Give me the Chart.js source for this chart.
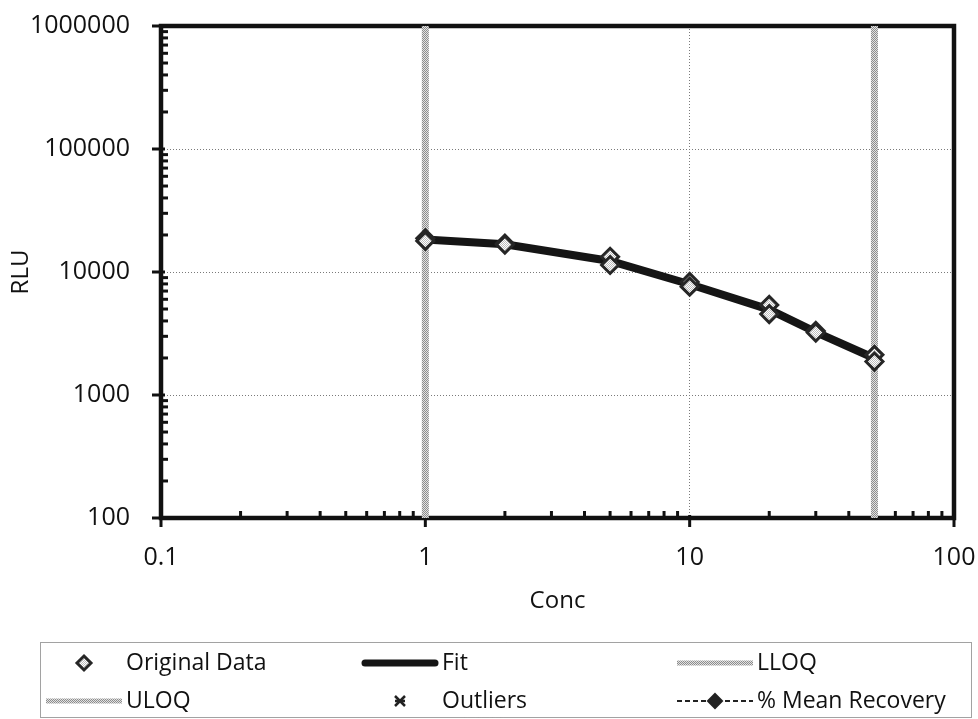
<!DOCTYPE html>
<html>
<head>
<meta charset="utf-8">
<title>RLU vs Conc</title>
<script src="https://cdn.jsdelivr.net/npm/chart.js@4.4.1/dist/chart.umd.min.js"></script>
<style>
  html, body { margin: 0; padding: 0; background: #fff; }
  #wrap { position: relative; width: 978px; height: 719px; }
</style>
</head>
<body>
<div id="wrap"><canvas id="chart"></canvas></div>
<script>
// Axis tick labels (decades on both log axes)
const xTickLabels = ['0.1', '1', '10', '100'];
const yTickLabels = ['100', '1000', '10000', '100000', '1000000'];

const dataConc = [1, 1, 2, 2, 5, 5, 10, 10, 20, 20, 30, 30, 50, 50];
const dataRlu = [18800, 17900, 17000, 16700, 13300, 11400, 8300, 7600, 5400, 4550, 3320, 3220, 2120, 1870];

// Fitted curve
const fitConc = [1, 2, 5, 10, 20, 30, 50];
const fitRlu = [18400, 16800, 12300, 7950, 4950, 3250, 1990];

// Quantification limits
const lloqConc = 1;
const uloqConc = 50;

const FONT = "'Open Sans', sans-serif";
const INK = '#111';
const CLEAR = 'rgba(0,0,0,0)';

// stippled grey like the scanned limit lines
function stipple(dark, light) {
    const c = document.createElement('canvas');
    c.width = 2; c.height = 2;
    const g = c.getContext('2d');
    g.fillStyle = light; g.fillRect(0, 0, 2, 2);
    g.fillStyle = dark; g.fillRect(0, 0, 1, 1); g.fillRect(1, 1, 1, 1);
    return g.createPattern(c, 'repeat');
}
const limitColor = stipple('#8c8c8c', '#e2e2e2');
const markerFill = stipple('#bdbdbd', '#ffffff');

const yMin = Number(yTickLabels[0]);
const yMax = Number(yTickLabels[yTickLabels.length - 1]);
const pts = (xs, ys) => xs.map((x, i) => ({ x: x, y: ys[i] }));

const datasets = [{
    label: 'Original Data',
    data: pts(dataConc, dataRlu),
    showLine: false,
    pointStyle: 'rectRot',
    pointRadius: 8.5,
    pointBackgroundColor: markerFill,
    pointBorderColor: '#262626',
    pointBorderWidth: 3
}, {
    label: 'Fit',
    data: pts(fitConc, fitRlu),
    showLine: true,
    borderColor: '#151515',
    borderWidth: 8,
    pointRadius: 0,
    tension: 0
}, {
    label: 'LLOQ',
    data: pts([lloqConc, lloqConc], [yMin, yMax]),
    showLine: true,
    borderColor: limitColor,
    borderWidth: 7,
    pointRadius: 0
}, {
    label: 'ULOQ',
    data: pts([uloqConc, uloqConc], [yMin, yMax]),
    showLine: true,
    borderColor: limitColor,
    borderWidth: 7,
    pointRadius: 0
}, {
    label: 'Outliers',
    data: [],
    showLine: false,
    pointStyle: 'crossRot',
    pointRadius: 5,
    pointBorderColor: '#222',
    pointBorderWidth: 2.5
}, {
    label: '% Mean Recovery',
    data: [],
    showLine: true,
    borderColor: '#222',
    borderWidth: 2,
    borderDash: [5, 3],
    pointStyle: 'rectRot',
    pointRadius: 7,
    pointBackgroundColor: '#222',
    pointBorderColor: '#222'
}];

// Frame around the plot plus Excel-like major/minor tick marks
const frameTicks = {
    id: 'frameTicks',
    beforeDatasetsDraw(chart) {
        const { ctx, chartArea: a, scales: { x, y } } = chart;
        const line = (x1, y1, x2, y2) => { ctx.beginPath(); ctx.moveTo(x1, y1); ctx.lineTo(x2, y2); ctx.stroke(); };
        ctx.save();
        ctx.strokeStyle = INK;
        ctx.lineWidth = 3;
        const decX = xTickLabels.map(Number);
        decX.forEach((d, i) => {
            const px = x.getPixelForValue(d);
            line(px, a.bottom - 3, px, a.bottom + 9);
            if (i < decX.length - 1) {
                for (let k = 2; k < 10; k++) {
                    const mx = x.getPixelForValue(k * d);
                    line(mx, a.bottom - 7, mx, a.bottom);
                }
            }
        });
        const decY = yTickLabels.map(Number);
        decY.forEach((d, i) => {
            const py = y.getPixelForValue(d);
            line(a.left - 9, py, a.left + 4, py);
            if (i < decY.length - 1) {
                for (let k = 2; k < 10; k++) {
                    const my = y.getPixelForValue(k * d);
                    line(a.left, my, a.left + 7, my);
                }
            }
        });
        ctx.lineWidth = 4.5;
        ctx.strokeRect(a.left, a.top, a.right - a.left, a.bottom - a.top);
        ctx.restore();
    }
};

// Boxed legend laid out in three columns, two rows
const legendBox = { left: 40, top: 642, right: 971, bottom: 717 };
const legendCols = [46, 362, 677];
const legendRows = [663, 701];
const symbolWidth = 76;

function drawMarker(ctx, style, cx, cy, r, fill, stroke, lw) {
    ctx.save();
    ctx.lineWidth = lw;
    ctx.strokeStyle = stroke;
    ctx.beginPath();
    if (style === 'rectRot') {
        ctx.moveTo(cx, cy - r); ctx.lineTo(cx + r, cy); ctx.lineTo(cx, cy + r); ctx.lineTo(cx - r, cy); ctx.closePath();
        if (fill) { ctx.fillStyle = fill; ctx.fill(); }
        ctx.stroke();
    } else {
        ctx.moveTo(cx - r, cy - r); ctx.lineTo(cx + r, cy + r);
        ctx.moveTo(cx + r, cy - r); ctx.lineTo(cx - r, cy + r);
        ctx.moveTo(cx - r, cy); ctx.lineTo(cx + r, cy);
        ctx.stroke();
    }
    ctx.restore();
}

const boxLegend = {
    id: 'boxLegend',
    afterDraw(chart) {
        const ctx = chart.ctx;
        ctx.save();
        ctx.setLineDash([1, 1]);
        ctx.lineWidth = 1;
        ctx.strokeStyle = '#444';
        ctx.strokeRect(legendBox.left + 0.5, legendBox.top + 0.5,
            legendBox.right - legendBox.left, legendBox.bottom - legendBox.top);
        ctx.setLineDash([]);
        ctx.font = '23px ' + FONT;
        ctx.textBaseline = 'middle';
        ctx.fillStyle = INK;
        chart.data.datasets.forEach((ds, i) => {
            const x0 = legendCols[i % 3];
            const cy = legendRows[Math.floor(i / 3)];
            const cx = x0 + symbolWidth / 2;
            const isFit = ds.label === 'Fit';
            if (ds.showLine) {
                ctx.save();
                ctx.strokeStyle = ds.borderColor;
                ctx.lineWidth = isFit ? 7 : (ds.borderDash ? ds.borderWidth : 5);
                ctx.lineCap = isFit ? 'round' : 'butt';
                ctx.setLineDash(ds.borderDash || []);
                ctx.beginPath();
                ctx.moveTo(x0 + (isFit ? 3 : 0), cy);
                ctx.lineTo(x0 + symbolWidth - (isFit ? 3 : 0), cy);
                ctx.stroke();
                ctx.restore();
            }
            if (ds.pointRadius > 0) {
                drawMarker(ctx, ds.pointStyle, cx, cy, ds.label === 'Outliers' ? 5 : 7,
                    ds.pointBackgroundColor, ds.pointBorderColor, ds.pointBorderWidth || 2);
            }
            ctx.fillText(ds.label, x0 + symbolWidth + 4, cy);
        });
        ctx.restore();
    }
};

try {
    const canvas = document.getElementById('chart');
    new Chart(canvas, {
        type: 'scatter',
        data: { datasets: datasets },
        plugins: [frameTicks, boxLegend],
        options: {
            responsive: true,
            maintainAspectRatio: false,
            animation: false,
            layout: { padding: { left: 0, right: 24, top: 26, bottom: 101 } },
            plugins: {
                legend: { display: false },
                tooltip: { enabled: false }
            },
            scales: {
                x: {
                    type: 'logarithmic',
                    min: Number(xTickLabels[0]),
                    max: Number(xTickLabels[xTickLabels.length - 1]),
                    afterBuildTicks: s => { s.ticks = xTickLabels.map(t => ({ value: Number(t) })); },
                    afterFit: s => { s.height = 100; },
                    ticks: {
                        autoSkip: false,
                        maxRotation: 0,
                        padding: 0,
                        color: INK,
                        font: { family: FONT, size: 25 },
                        callback: (v, i) => xTickLabels[i]
                    },
                    // invisible tick marks only used to push labels away from the axis
                    grid: { color: '#7a7a7a', lineWidth: 1, drawTicks: true, tickLength: 25, tickColor: CLEAR },
                    border: { display: false, dash: [1, 2] },
                    title: {
                        display: true,
                        text: 'Conc',
                        color: INK,
                        font: { family: FONT, size: 24 },
                        padding: { top: 0, bottom: 2 }
                    }
                },
                y: {
                    type: 'logarithmic',
                    min: yMin,
                    max: yMax,
                    afterBuildTicks: s => { s.ticks = yTickLabels.map(t => ({ value: Number(t) })); },
                    afterFit: s => { s.width = 161; },
                    ticks: {
                        autoSkip: false,
                        padding: 0,
                        color: INK,
                        font: { family: FONT, size: 25 },
                        callback: (v, i) => yTickLabels[i]
                    },
                    grid: { color: '#7a7a7a', lineWidth: 1, drawTicks: true, tickLength: 31, tickColor: CLEAR },
                    border: { display: false, dash: [1, 2] },
                    title: {
                        display: true,
                        text: 'RLU',
                        color: INK,
                        font: { family: FONT, size: 24 },
                        padding: { top: 7, bottom: 0 }
                    }
                }
            }
        }
    });
} catch (error) {
    console.error('Error initializing chart:', error);
}
</script>
</body>
</html>
